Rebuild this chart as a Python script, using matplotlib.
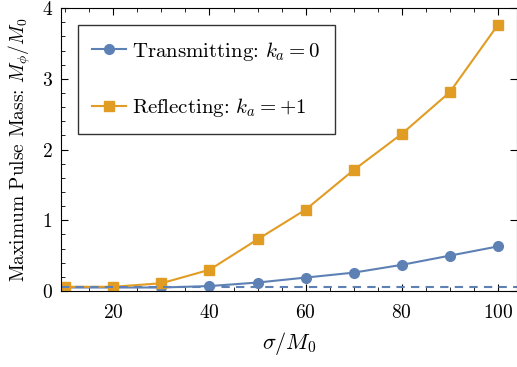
import numpy as np
import matplotlib.pyplot as plt

plt.rcParams['font.family'] = 'cmr10'
plt.rcParams['mathtext.fontset'] = 'cm'
plt.rcParams['axes.unicode_minus'] = False
plt.rcParams['axes.formatter.use_mathtext'] = True

sigma = [10, 20, 30, 40, 50, 60, 70, 80, 90, 100]
transmitting = [0.05, 0.05, 0.05, 0.07, 0.12, 0.19, 0.26, 0.37, 0.50, 0.63]
reflecting = [0.06, 0.06, 0.11, 0.30, 0.73, 1.15, 1.71, 2.22, 2.81, 3.76]
baseline = 0.05

blue = '#5E81B5'
orange = '#E19C24'

fig = plt.figure(figsize=(5.17, 3.67), dpi=100)
ax = fig.add_axes([0.118, 0.207, 0.882, 0.771])

ax.plot(sigma, transmitting, '-o', color=blue, lw=1.5, ms=7,
        label=r'Transmitting: $k_a = 0$')
ax.plot(sigma, reflecting, '-s', color=orange, lw=1.5, ms=7,
        label=r'Reflecting: $k_a = +1$')
ax.axhline(baseline, color=blue, lw=1.5, ls='--', dashes=(4, 3))

ax.set_xlim(9.1, 104)
ax.set_ylim(0, 4)
ax.set_xticks([20, 40, 60, 80, 100])
ax.set_xticks(np.arange(10, 104, 5), minor=True)
ax.set_yticks([0, 1, 2, 3, 4])
ax.set_yticks(np.arange(0, 4.01, 0.2), minor=True)
ax.tick_params(which='both', direction='in', top=True, right=True, labelsize=14)
ax.tick_params(which='major', length=5)
ax.tick_params(which='minor', length=3, right=False)
ax.tick_params(axis='x', pad=9)
ax.tick_params(axis='y', pad=6)

ax.set_xlabel(r'$\sigma/M_0$', fontsize=16, labelpad=6)
ax.set_ylabel(r'Maximum Pulse Mass: $M_\phi/M_0$', fontsize=14, labelpad=6)

leg = ax.legend(loc='upper left', bbox_to_anchor=(0.037, 0.94), fontsize=15,
                frameon=True, fancybox=False, edgecolor='black',
                borderaxespad=0, borderpad=0.7, labelspacing=1.6,
                handlelength=1.6, handletextpad=0.3)
leg.get_frame().set_linewidth(1.0)

plt.savefig('out.png', dpi=100)
